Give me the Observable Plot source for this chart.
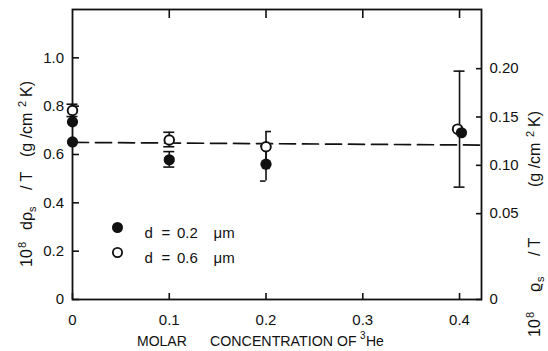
<!DOCTYPE html>
<html><head><meta charset="utf-8">
<script src="https://cdn.jsdelivr.net/npm/d3@7"></script>
<script src="https://cdn.jsdelivr.net/npm/@observablehq/plot@0.6"></script>
<style>body{margin:0;background:#fff} svg{display:block}</style>
</head><body><div id="chart"></div>
<script>
// d = 0.2 μm (filled circles)
const filledX = [0, 0, 0.1, 0.2, 0.402];
const filledY = [0.652, 0.735, 0.578, 0.56, 0.69];
// d = 0.6 μm (open circles)
const openX = [0, 0.1, 0.2, 0.398];
const openY = [0.782, 0.66, 0.632, 0.705];
// error bars: position, low, high, cap side
const errX = [0, 0.1, 0.1, 0.2, 0.2, 0.4];
const errLo = [0.757, 0.548, 0.632, 0.49, 0.565, 0.465];
const errHi = [0.808, 0.612, 0.692, 0.635, 0.695, 0.945];
const errCap = ["both", "both", "both", "left", "right", "both"];
// dashed average line
const fitX = [0, 0.4227];
const fitY = [0.65, 0.639];
// axes
const xTicks = [0, 0.1, 0.2, 0.3, 0.4];
const yTicks = [0, 0.2, 0.4, 0.6, 0.8, 1.0];
const rightTicks = [0, 0.05, 0.10, 0.15, 0.20];
const rightLabels = ["0", "0.05", "0.10", "0.15", "0.20"];
const legendLabels = ["0.2", "0.6"];

const ink = "#111";
const fmt = d => d === 0 ? "0" : d.toFixed(1);
// right axis (ρs/T) expressed in left-axis units
const rightToLeft = r => r === 0 ? 0 : (r + 0.0388) * 4;
const rightPos = rightTicks.map(rightToLeft);
const rightLab = new Map(rightPos.map((p, i) => [p, rightLabels[i]]));

const filled = filledX.map((x, i) => ({x, y: filledY[i]}));
const open = openX.map((x, i) => ({x, y: openY[i]}));
const errs = errX.map((x, i) => ({x, lo: errLo[i], hi: errHi[i], cap: errCap[i]}));
const caps = errs.flatMap(e => [{x: e.x, y: e.lo, cap: e.cap}, {x: e.x, y: e.hi, cap: e.cap}]);
const fit = fitX.map((x, i) => ({x, y: fitY[i]}));

const capMark = side => Plot.ruleY(caps.filter(c => c.cap === side), {
  x1: "x", x2: "x", y: "y", stroke: ink, strokeWidth: 1.6,
  insetLeft: side === "right" ? 0 : -5.5, insetRight: side === "left" ? 0 : -5.5
});

const legendMarks = legendLabels.flatMap((lab, i) => {
  const dy = 218 + i * 25;
  return [
    Plot.dot([0], {frameAnchor: "top-left", dx: 45, dy, r: i === 0 ? 5.5 : 4.6,
      fill: i === 0 ? ink : "#fff", stroke: ink, strokeWidth: i === 0 ? 0 : 1.8}),
    Plot.text(["d"], {frameAnchor: "top-left", dx: 72, dy, textAnchor: "start", fontSize: 15, fill: ink}),
    Plot.text(["="], {frameAnchor: "top-left", dx: 89, dy, textAnchor: "start", fontSize: 15, fill: ink}),
    Plot.text([lab], {frameAnchor: "top-left", dx: 104.5, dy, textAnchor: "start", fontSize: 15, fill: ink}),
    Plot.text(["μm"], {frameAnchor: "top-left", dx: 141, dy, textAnchor: "start", fontSize: 15, fill: ink})
  ];
});

const plot = Plot.plot({
  width: 548, height: 351,
  marginLeft: 72, marginRight: 67, marginTop: 9, marginBottom: 52,
  style: {fontFamily: "'Liberation Sans', Arial, sans-serif", fontSize: "15px", color: ink, background: "#fff"},
  x: {domain: [0, 0.4227]},
  y: {domain: [0, 1.2]},
  marks: [
    Plot.axisX({ticks: xTicks, tickFormat: fmt, tickSize: -6, tickPadding: 21, strokeWidth: 1.6, label: null}),
    Plot.axisX({anchor: "top", ticks: xTicks.slice(1), tickFormat: () => "", tickSize: -8, strokeWidth: 1.6, label: null}),
    Plot.axisY({ticks: yTicks, tickFormat: fmt, tickSize: -7, tickPadding: 15.5, strokeWidth: 1.6, label: null}),
    Plot.axisY({anchor: "right", ticks: rightPos, tickFormat: d => rightLab.get(d), tickSize: -6, tickPadding: 14, strokeWidth: 1.6, label: null}),
    Plot.frame({stroke: ink, strokeWidth: 1.8}),
    Plot.line(fit, {x: "x", y: "y", stroke: ink, strokeWidth: 1.7, strokeDasharray: "16,7"}),
    Plot.ruleX(errs, {x: "x", y1: "lo", y2: "hi", stroke: ink, strokeWidth: 1.6}),
    capMark("both"), capMark("left"), capMark("right"),
    Plot.dot(open, {x: "x", y: "y", r: 4.8, fill: "#fff", stroke: ink, strokeWidth: 1.9}),
    Plot.dot(filled, {x: "x", y: "y", r: 5.6, fill: ink, stroke: "none"}),
    ...legendMarks
  ]
});
document.getElementById("chart").appendChild(plot);

// axis titles with super/subscripts
const svg = d3.select(plot);
const titleFont = "'Liberation Sans', Arial, sans-serif";
function rotTitle(xb, y0, pieces) {
  const g = svg.append("g").attr("transform", `translate(${xb},${y0}) rotate(-90)`)
    .attr("font-family", titleFont).attr("font-size", 16).attr("fill", ink)
    .attr("text-anchor", "start");
  pieces.forEach(p => {
    g.append("text").attr("x", p.x).attr("y", p.dy || 0)
      .attr("font-size", p.fs || 16).text(p.t);
  });
}
// left title: 10^8 dρ_s / T   (g /cm^2 K)
rotTitle(31.5, 300, [
  {t: "10", x: 33}, {t: "8", x: 52, dy: -6, fs: 11},
  {t: "dρ", x: 70}, {t: "s", x: 88, dy: 4, fs: 11},
  {t: "/ T", x: 110},
  {t: "(g /cm", x: 143}, {t: "2", x: 193, dy: -6, fs: 11}, {t: "K)", x: 203}
]);
// right title: 10^8 ϱ_s / T   (g /cm^2 K)
rotTitle(540, 340, [
  {t: "10", x: 3}, {t: "8", x: 22, dy: -6, fs: 11},
  {t: "ϱ", x: 48}, {t: "s", x: 58, dy: 4, fs: 11},
  {t: "/ T", x: 84},
  {t: "(g /cm", x: 153}, {t: "2", x: 203, dy: -6, fs: 11}, {t: "K)", x: 213}
]);
// bottom title
const bt = svg.append("g").attr("font-family", titleFont)
  .attr("font-size", 14).attr("fill", ink).attr("text-anchor", "start");
[{t: "MOLAR", x: 137}, {t: "CONCENTRATION", x: 210, w: 123}, {t: "OF", x: 337}]
  .forEach(p => {
    const el = bt.append("text").attr("x", p.x).attr("y", 346).text(p.t);
    if (p.w) el.attr("textLength", p.w).attr("lengthAdjust", "spacingAndGlyphs");
  });
bt.append("text").attr("x", 360).attr("y", 339).attr("font-size", 10).text("3");
bt.append("text").attr("x", 366).attr("y", 346).text("He");
</script></body></html>
